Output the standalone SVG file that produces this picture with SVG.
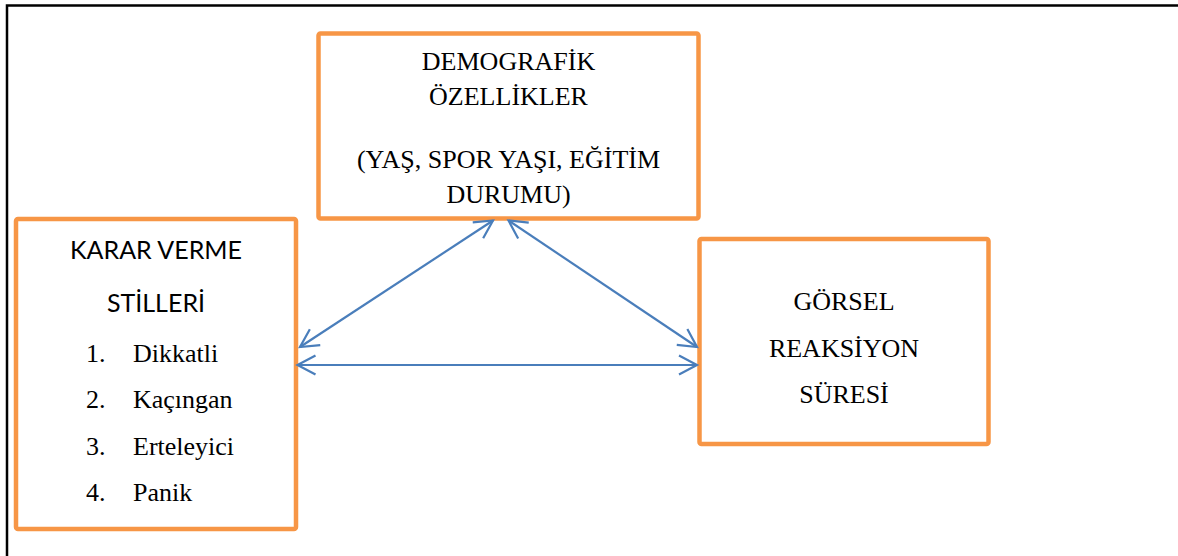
<svg xmlns="http://www.w3.org/2000/svg" width="1178" height="556" viewBox="0 0 1178 556">
<style>
.box{fill:#fff;stroke:#F79646;stroke-width:4.5}
.conn{fill:none;stroke:#4A7EBB;stroke-width:2.2;marker-start:url(#ah);marker-end:url(#ah)}
</style>
<defs>
<marker id="ah" markerUnits="userSpaceOnUse" markerWidth="24" markerHeight="24" viewBox="-20 -12 24 24" refX="0" refY="0" orient="auto-start-reverse">
<path d="M-18,-9.5 L0,0 L-18,9.5" fill="none" stroke="#4A7EBB" stroke-width="2.2"/>
</marker>
</defs>
<rect width="1178" height="556" fill="#fff"/>
<g id="frame">
<path d="M7,556 V5.5 H1178" fill="none" stroke="#000" stroke-width="2.5"/>
</g>
<g id="demografik" font-family="Liberation Serif, DejaVu Serif, serif" font-size="26" fill="#000" text-anchor="middle">
<rect class="box" x="318.5" y="33.5" width="380" height="185" rx="2"/>
<text x="508.5" y="70">DEMOGRAFİK</text>
<text x="508.5" y="105">ÖZELLİKLER</text>
<text x="508.5" y="168">(YAŞ, SPOR YAŞI, EĞİTİM</text>
<text x="508.5" y="203">DURUMU)</text>
</g>
<g id="karar" fill="#000">
<rect class="box" x="16" y="219" width="280" height="310" rx="2"/>
<g font-family="Lato, Liberation Sans, sans-serif" font-size="25" text-anchor="middle">
<text x="156" y="259">KARAR VERME</text>
<text x="156" y="311.5">STİLLERİ</text>
</g>
<g font-family="Liberation Serif, DejaVu Serif, serif" font-size="26">
<text x="86" y="361.5">1.</text>
<text x="133" y="361.5">Dikkatli</text>
<text x="86" y="408">2.</text>
<text x="133" y="408">Kaçıngan</text>
<text x="86" y="455">3.</text>
<text x="133" y="455">Erteleyici</text>
<text x="86" y="500.5">4.</text>
<text x="133" y="500.5">Panik</text>
</g>
</g>
<g id="gorsel" font-family="Liberation Serif, DejaVu Serif, serif" font-size="26" fill="#000" text-anchor="middle">
<rect class="box" x="699.5" y="239" width="289" height="205" rx="2"/>
<text x="844" y="310">GÖRSEL</text>
<text x="844" y="356.5">REAKSİYON</text>
<text x="844" y="403">SÜRESİ</text>
</g>
<g id="connectors">
<line class="conn" x1="300" y1="347" x2="493" y2="220.5"/>
<line class="conn" x1="508.5" y1="220.5" x2="697" y2="347"/>
<line class="conn" x1="297.5" y1="365" x2="697" y2="365"/>
</g>
</svg>
